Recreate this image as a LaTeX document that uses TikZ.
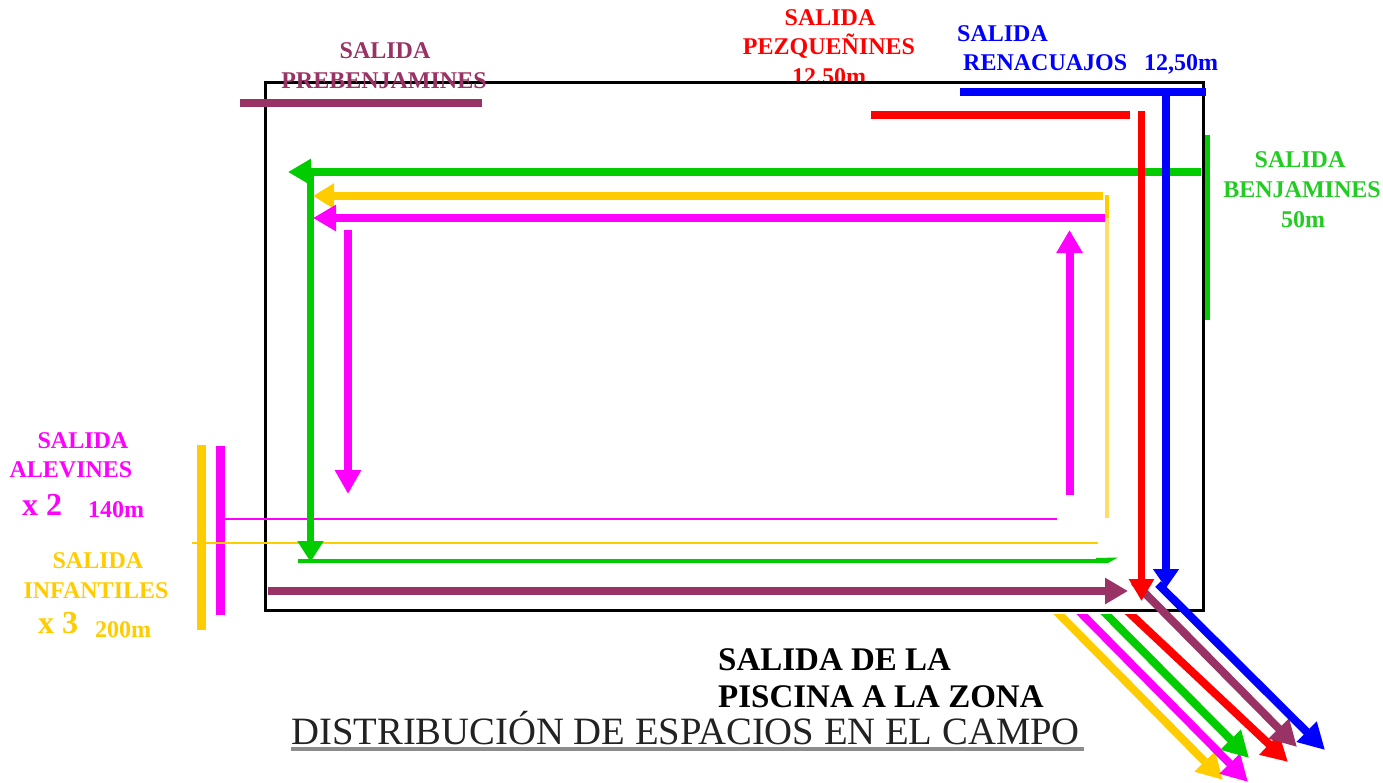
\documentclass[tikz,border=0pt]{standalone}
\usepackage{fontspec}
\setmainfont{Liberation Serif}
\usetikzlibrary{arrows.meta}
\definecolor{cgreen}{HTML}{00CC00}
\definecolor{cgreentext}{HTML}{22CC22}
\definecolor{cyellow}{HTML}{FFCC00}
\definecolor{cmag}{HTML}{FF00FF}
\definecolor{cred}{HTML}{FF0000}
\definecolor{cblue}{HTML}{0000FF}
\definecolor{cplum}{HTML}{993366}
\definecolor{clight}{HTML}{FFDD66}
\definecolor{ctitle}{HTML}{222222}
\begin{document}
\begin{tikzpicture}[x=1pt,y=-1pt,
  lbl/.style={font=\bfseries\fontsize{24}{29}\selectfont, inner sep=0pt, anchor=base},
  lblw/.style={lbl, anchor=base west},
  big/.style={font=\bfseries\fontsize{32}{34}\selectfont, inner sep=0pt, anchor=base west},
  huge/.style={font=\bfseries\fontsize{33}{37}\selectfont, inner sep=0pt, anchor=base west},
  bar/.style={line width=8pt},
  thinbar/.style={line width=2pt},
  headH/.style={-{Triangle[length=23pt,width=25pt]}},
  headD/.style={-{Triangle[length=26pt,width=27pt]}}
]
\useasboundingbox (0,0) rectangle (1383,782);
\fill[white] (0,0) rectangle (1383,782);

% red label (partly hidden by the field)
\node[lbl, text=cred] (peA) at (830,25) {SALIDA};
\node[lbl, text=cred] (peB) at (829,54) {PEZQUEÑINES};
\node[lbl, text=cred] (peC) at (829,84) {12,50m};

% field
\draw[line width=3pt, fill=white] (265.5,82) rectangle (1203.5,610.5);

% labels
\node[lbl, text=cplum] (pbA) at (385,58) {SALIDA};
\node[lbl, text=cplum] (pbB) at (384,88) {PREBENJAMINES};
\node[lblw, text=cblue] (reA) at (957,41) {SALIDA};
\node[lblw, text=cblue] (reB) at (963,70) {RENACUAJOS};
\node[lblw, text=cblue] (reC) at (1144,70) {12,50m};
\node[lbl, text=cgreentext] (beA) at (1300,167) {SALIDA};
\node[lbl, text=cgreentext] (beB) at (1302,197) {BENJAMINES};
\node[lbl, text=cgreentext] (beC) at (1303,227) {50m};
\node[lbl, text=cmag] (alA) at (83,448) {SALIDA};
\node[lbl, text=cmag] (alB) at (71,477) {ALEVINES};
\node[big, text=cmag] (alC) at (22,515) {x 2};
\node[lblw, text=cmag] (alD) at (88,517) {140m};
\node[lbl, text=cyellow] (inA) at (98,568) {SALIDA};
\node[lbl, text=cyellow] (inB) at (96,598) {INFANTILES};
\node[big, text=cyellow] (inC) at (38,633) {x 3};
\node[lblw, text=cyellow] (inD) at (95,637) {200m};
\node[huge] (piA) at (718,670) {SALIDA DE LA};
\node[huge] (piB) at (718,707) {PISCINA A LA ZONA};
\node[font=\fontsize{38.7}{40}\selectfont, text=ctitle, inner sep=0pt, anchor=base west] (title) at (291,744) {DISTRIBUCIÓN DE ESPACIOS EN EL CAMPO};
\draw[line width=3.5pt, black!45] (291,749) -- (1084,749);

% start bars
\draw[bar, cplum] (240,102.5) -- (482,102.5);
\draw[bar, cblue] (960,91.5) -- (1206,91.5);
\draw[bar, cred] (871,115) -- (1130,115);
\draw[line width=5pt, cgreen] (1207.5,135) -- (1207.5,320);
\draw[line width=9pt, cyellow] (201.5,445) -- (201.5,630);
\draw[line width=9pt, cmag] (220.5,446) -- (220.5,615);

% thin lines
\draw[thinbar, cmag] (225,519) -- (1057,519);
\draw[thinbar, cyellow] (192,543) -- (1098,543);
\draw[line width=4pt, clight] (1107,195) -- (1107,518);
\draw[line width=4pt, cyellow] (1107,195) -- (1107,218);

% green route
\draw[line width=4pt, cgreen] (298,561) -- (1100,561);
\fill[cgreen] (1096,558) -- (1118,557.5) -- (1108,563) -- (1096,563) -- cycle;
\draw[bar, cgreen, headH] (1201,172) -- (288,172);
\draw[line width=7pt, cgreen, -{Triangle[length=21pt,width=25pt]}] (310.5,172) -- (310.5,562);

% yellow and magenta routes
\draw[bar, cyellow, -{Triangle[length=21pt,width=24pt]}] (1103,196) -- (313,196);
\draw[bar, cmag, headH] (1105,218) -- (313,218);
\draw[bar, cmag, -{Triangle[length=24pt,width=25pt]}] (348,230) -- (348,494);
\draw[bar, cmag, -{Triangle[length=23pt,width=25pt]}] (1069.5,495) -- (1069.5,230);

% plum route
\draw[bar, cplum, headH] (268,591) -- (1128,591);

% exits (diagonals)
\begin{scope}
\clip (1000,614.5) rectangle (1383,782);
\draw[bar, cyellow, headD] (1051,606) -- (1223,780);
\draw[bar, cmag, headD] (1074,606) -- (1248,782);
\draw[bar, cgreen, headD] (1098,606) -- (1249,758);
\draw[bar, cred, headD] (1122,606) -- (1288,762);
\end{scope}
\draw[bar, cplum, headD] (1134,582) -- (1297,747);
\draw[bar, cblue, headD] (1158,584) -- (1325,750);

% red and blue routes
\draw[line width=7pt, cred, -{Triangle[length=22pt,width=24pt]}] (1141.5,111) -- (1141.5,601);
\draw[bar, cblue, -{Triangle[length=19pt,width=25pt]}] (1166,91) -- (1166,588);
\end{tikzpicture}
\end{document}
